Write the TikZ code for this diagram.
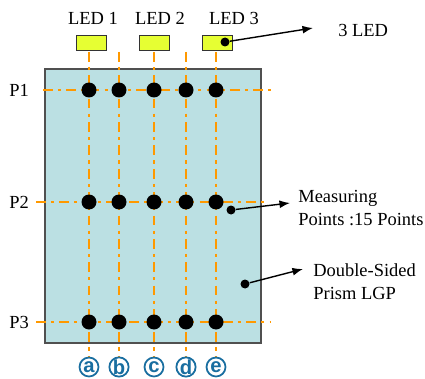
\documentclass[tikz,border=0pt]{standalone}
\usepackage{fontspec}
\setmainfont{Liberation Serif}
\newfontfamily\markfont{Liberation Sans}
\usepackage{tikz}
\usetikzlibrary{arrows.meta, positioning}
\definecolor{lgpcyan}{RGB}{187, 224, 227}
\definecolor{ledyellow}{RGB}{230, 255, 51}
\definecolor{guideorange}{RGB}{255, 153, 0}
\definecolor{markblue}{RGB}{25, 110, 160}
\definecolor{framegray}{RGB}{80, 80, 80}

\begin{document}
\begin{tikzpicture}[
    x=0.02cm, y=-0.02cm,
    font=\fontsize{10.5}{13}\selectfont,
    lgp/.style={
        rectangle, draw=framegray, fill=lgpcyan, line width=0.6pt,
        minimum width=4.32cm, minimum height=5.48cm, inner sep=0pt
    },
    led/.style={
        rectangle, draw=black!80, fill=ledyellow, line width=0.5pt,
        minimum width=0.6cm, minimum height=0.3cm, inner sep=0pt
    },
    mpoint/.style={circle, fill=black, minimum size=0.3cm, inner sep=0pt},
    tipdot/.style={circle, fill=black, minimum size=0.18cm, inner sep=0pt},
    colmark/.style={
        circle, draw=markblue, fill=white, line width=1pt, text=markblue,
        minimum size=0.38cm, inner sep=0pt,
        font=\markfont\bfseries\fontsize{11.5}{11.5}\selectfont
    },
    note/.style={anchor=west, align=left, inner sep=0pt},
    guide/.style={draw=guideorange, line width=1.7pt,
        dash pattern=on 5.5pt off 3pt on 1.8pt off 3pt},
    pointer/.style={draw, -{Latex[length=6pt, width=4.5pt]}, line width=0.8pt}
]
    \useasboundingbox (0,0) rectangle (425,378);

    % light guide plate and LEDs
    \node [lgp] (plate) at (153,206) {};
    \node [led] (led1) at (91,42.5) {};
    \node [led] (led2) at (154,42.5) {};
    \node [led] (led3) at (217,42.5) {};
    \node (ledlab1) at (93,18) {LED 1};
    \node (ledlab2) at (160,18) {LED 2};
    \node (ledlab3) at (234,18) {LED 3};

    % measuring grid
    \draw [guide] (43,90) -- (275,90);
    \draw [guide] (36,202) -- (268,202);
    \draw [guide] (36,322) -- (270,322);
    \draw [guide] (89,52) -- (89,358);
    \draw [guide] (119,52) -- (119,358);
    \draw [guide] (154,52) -- (154,358);
    \draw [guide] (186,52) -- (186,358);
    \draw [guide] (216,52) -- (216,358);

    \node (p1) at (19,90) {P1};
    \node (p2) at (19,202) {P2};
    \node (p3) at (19,322) {P3};

    \node [mpoint] (a1) at (89,90) {};
    \node [mpoint] (b1) at (119,90) {};
    \node [mpoint] (c1) at (154,90) {};
    \node [mpoint] (d1) at (186,90) {};
    \node [mpoint] (e1) at (216,90) {};
    \node [mpoint] (a2) at (89,202) {};
    \node [mpoint] (b2) at (119,202) {};
    \node [mpoint] (c2) at (154,202) {};
    \node [mpoint] (d2) at (186,202) {};
    \node [mpoint] (e2) at (216,202) {};
    \node [mpoint] (a3) at (89,322) {};
    \node [mpoint] (b3) at (119,322) {};
    \node [mpoint] (c3) at (154,322) {};
    \node [mpoint] (d3) at (186,322) {};
    \node [mpoint] (e3) at (216,322) {};

    \node [colmark] (cola) at (89,367) {a};
    \node [colmark] (colb) at (119,367) {b};
    \node [colmark] (colc) at (154,367) {c};
    \node [colmark] (cold) at (186,367) {d};
    \node [colmark] (cole) at (216,367) {e};

    % callouts
    \node [tipdot] (ledtip) at (225,42) {};
    \node [tipdot] (pointtip) at (231,210) {};
    \node [tipdot] (platetip) at (245,284) {};
    \node [note] (ledtext) at (338,30) {3 LED};
    \node [note] (pointtext) at (298,208) {Measuring\\Points :15 Points};
    \node [note] (platetext) at (313,282) {Double-Sided\\Prism LGP};
    \coordinate (ledend) at (313,28);
    \coordinate (pointend) at (290,203);
    \coordinate (plateend) at (303,269);

    \path [pointer] (ledtip) -- (ledend);
    \path [pointer] (pointtip) -- (pointend);
    \path [pointer] (platetip) -- (plateend);
\end{tikzpicture}
\end{document}
